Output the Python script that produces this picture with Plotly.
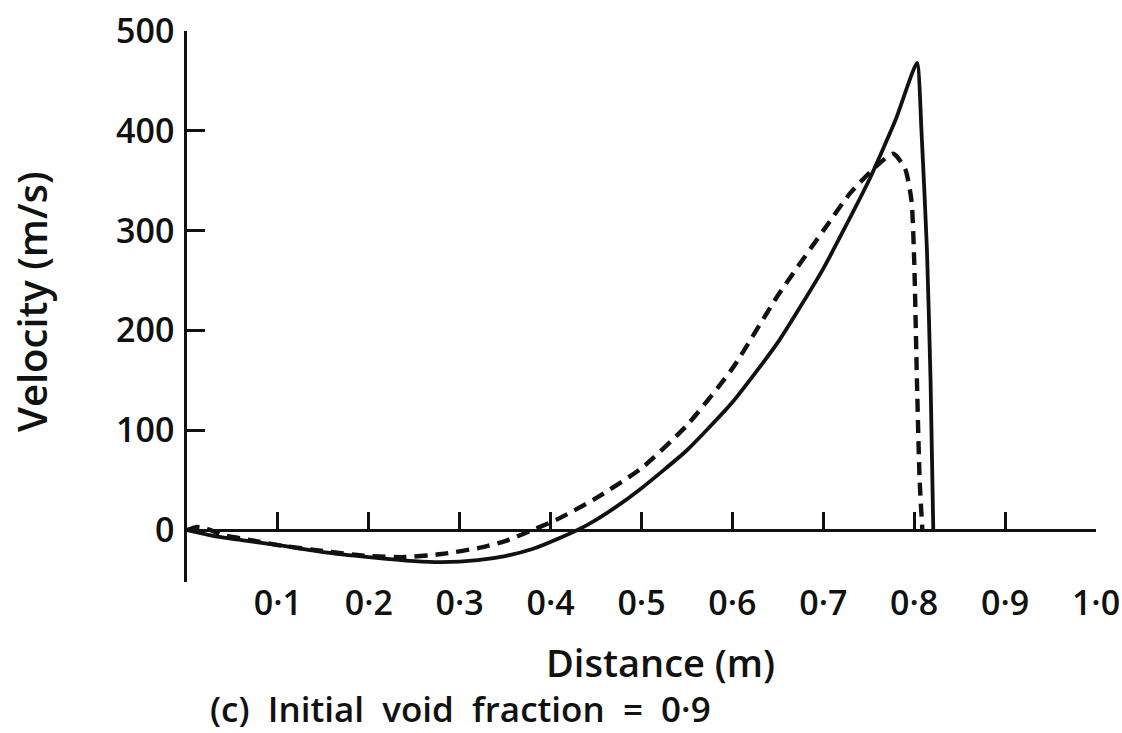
import plotly.graph_objects as go

# Data
distance_solid = [0, 0.03, 0.06, 0.10, 0.15, 0.20, 0.25, 0.28, 0.32, 0.35, 0.38, 0.41, 0.44,
                  0.47, 0.50, 0.55, 0.60, 0.65, 0.70, 0.75, 0.78, 0.803, 0.808, 0.814, 0.818, 0.821]
velocity_solid = [0, -6, -10, -15, -22, -27, -31, -32, -30, -26, -19, -8, 5,
                  22, 42, 80, 128, 188, 262, 350, 412, 468, 400, 281, 150, 0]

distance_dashed = [0, 0.01, 0.02, 0.04, 0.07, 0.10, 0.15, 0.20, 0.24, 0.28, 0.32, 0.35, 0.38,
                   0.41, 0.45, 0.50, 0.55, 0.60, 0.65, 0.70, 0.73, 0.76, 0.777, 0.79, 0.797,
                   0.80, 0.803, 0.806, 0.809]
velocity_dashed = [0, 3, 2, -5, -10, -15, -21, -26, -27, -24, -18, -11, 0,
                   12, 32, 62, 105, 162, 235, 300, 338, 366, 377, 362, 330,
                   270, 150, 50, 0]

x_tick_vals = [0.1, 0.2, 0.3, 0.4, 0.5, 0.6, 0.7, 0.8, 0.9, 1.0]
x_tick_text = ["0·1", "0·2", "0·3", "0·4", "0·5", "0·6", "0·7", "0·8", "0·9", "1·0"]
y_tick_vals = [0, 100, 200, 300, 400, 500]
y_tick_text = ["0", "100", "200", "300", "400", "500"]

FONT = "Open Sans"
WEIGHT = 600
INK = "#111111"

W, H = 1122, 733
L, R, T, B = 187, 26, 31, 151
y_min, y_max = -52, 500

fig = go.Figure()
fig.add_trace(go.Scatter(x=distance_solid, y=velocity_solid, mode="lines",
                         line=dict(color=INK, width=3.8, shape="spline", smoothing=0.5),
                         showlegend=False))
fig.add_trace(go.Scatter(x=distance_dashed, y=velocity_dashed, mode="lines",
                         line=dict(color=INK, width=4.4, dash="13px,8px",
                                   shape="spline", smoothing=0.6),
                         showlegend=False))

pw = W - L - R
ph = H - T - B


def px_x(p):
    return (p - L) / pw


def px_y(p):
    return (H - B - p) / ph


def f(size):
    return dict(size=size, family=FONT, color=INK, weight=WEIGHT)


fig.update_layout(
    width=W, height=H,
    margin=dict(l=L, r=R, t=T, b=B, autoexpand=False),
    paper_bgcolor="white", plot_bgcolor="white",
    font=dict(family=FONT, color=INK),
    xaxis=dict(range=[0, 1.0], anchor="free", position=(0 - y_min) / (y_max - y_min),
               showline=True, linecolor=INK, linewidth=2.5, automargin=False,
               ticks="inside", ticklen=17, tickwidth=2.5, tickcolor=INK,
               tickvals=x_tick_vals, ticktext=x_tick_text,
               tickfont=f(34),
               ticklabelstandoff=42,
               showgrid=False, zeroline=False),
    yaxis=dict(range=[y_min, y_max], anchor="x",
               showline=True, linecolor=INK, linewidth=2.5, automargin=False,
               ticks="inside", ticklen=18, tickwidth=2.5, tickcolor=INK,
               tickvals=y_tick_vals, ticktext=y_tick_text,
               tickfont=f(34),
               ticklabelstandoff=3,
               showgrid=False, zeroline=False),
    annotations=[
        dict(text="Distance (m)", xref="paper", yref="paper", x=px_x(660), y=px_y(662),
             showarrow=False, xanchor="center", yanchor="middle", font=f(38)),
        dict(text="(c)  Initial  void  fraction  =  0·9", xref="paper", yref="paper",
             x=px_x(460), y=px_y(708), showarrow=False, xanchor="center", yanchor="middle",
             font=f(35)),
        dict(text="Velocity (m/s)", xref="paper", yref="paper", x=px_x(31), y=px_y(302),
             showarrow=False, xanchor="center", yanchor="middle", textangle=-90,
             font=f(40)),
    ],
)

fig.write_html("out.html")
